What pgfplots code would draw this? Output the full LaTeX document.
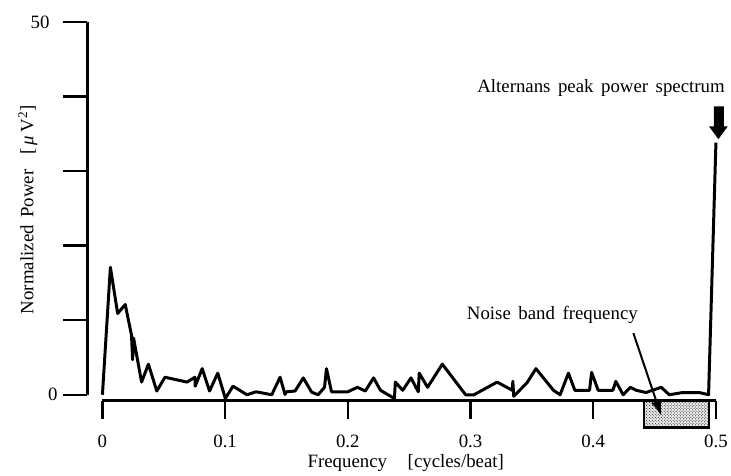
\documentclass[border=0pt]{standalone}
\usepackage{fontspec}
\setmainfont{Liberation Serif}
\usepackage{pgfplots}
\pgfplotsset{compat=1.18}
\usetikzlibrary{arrows.meta, patterns}

\newcommand{\gap}{\hspace{0.4em}}

\begin{document}
\begin{tikzpicture}[font=\fontsize{19}{23}\selectfont]
\begin{axis}[
    hide axis,
    scale only axis,
    width=617bp, height=375bp,
    xmin=0, xmax=0.5,
    ymin=0, ymax=50,
    clip=false
]
\coordinate (O) at (axis cs:0,0);

% spectrum
\addplot[black, line width=3bp, line join=round] coordinates {
    (0,0) (0.0065,17.1) (0.0124,10.9) (0.0186,12.1) (0.0237,8.0) (0.0246,4.7)
    (0.0254,7.6) (0.0319,1.7) (0.0375,4.1) (0.0443,0.5) (0.051,2.35) (0.069,1.7)
    (0.0754,2.35) (0.0756,1.15) (0.0813,3.5) (0.0873,0.5) (0.094,2.9) (0.1002,-0.5)
    (0.1064,1.15) (0.1178,0) (0.1253,0.4) (0.138,0) (0.1448,2.35) (0.1488,0.05)
    (0.150,0.4) (0.157,0.5) (0.1637,2.26) (0.1705,0.35) (0.1758,0) (0.181,1.0)
    (0.1826,3.5) (0.1867,0.4) (0.200,0.4) (0.2078,1.0) (0.2142,0.5) (0.221,2.26)
    (0.2266,0.6) (0.238,-0.5) (0.2387,1.7) (0.2447,0.6) (0.2515,2.26) (0.2574,0.4)
    (0.2582,2.9) (0.265,1.0) (0.277,4.1) (0.296,0) (0.3028,0) (0.3217,1.7)
    (0.334,0.6) (0.3345,1.8) (0.3352,-0.2) (0.346,1.6) (0.3533,3.5) (0.3676,0.6)
    (0.373,0) (0.3798,2.9) (0.385,0.6) (0.397,0.6) (0.3987,3.0) (0.404,0.6)
    (0.416,0.6) (0.4184,1.8) (0.4244,0) (0.4303,1.0) (0.435,0.6) (0.443,0.3)
    (0.4554,1.0) (0.462,0) (0.473,0.3) (0.4865,0.3) (0.494,0) (0.5,33.8)
};

% noise band box
\addplot[draw=black, line width=2.2bp, fill=gray!15,
    postaction={pattern=crosshatch dots, pattern color=black}] coordinates {
    (0.4417,-0.8) (0.4944,-0.8) (0.4944,-4.4) (0.4417,-4.4) (0.4417,-0.8)
};

% axes drawn apart, as in the original
\draw[line width=2.5bp] (axis cs:-0.0122,0) -- (axis cs:-0.0122,50);
\pgfplotsinvokeforeach{0,10,20,30,40,50}{
    \draw[line width=2.5bp] (axis cs:-0.0324,#1) -- (axis cs:-0.0122,#1);
}
\draw[line width=2.5bp] (axis cs:0,-0.8) -- (axis cs:0.5,-0.8);
\pgfplotsinvokeforeach{0,0.1,0.2,0.3,0.4,0.5}{
    \draw[line width=2.5bp] (axis cs:#1,-0.8) -- (axis cs:#1,-3.2);
    \node at (axis cs:#1,-6.2) {#1};
}

% tick labels
\node[anchor=east, inner sep=0pt] at (axis cs:-0.0430,50) {50};
\node[anchor=east, inner sep=0pt] at (axis cs:-0.0365,0) {0};

% axis titles
\node at (axis cs:0.2472,-9.1) {Frequency\hspace{1.1em}[cycles/beat]};
\node[rotate=90] at (axis cs:-0.0608,24.8) {Normalized\gap Power\hspace{0.8em}[\,\textit{μ}\,V\textsuperscript{2}]};

% annotations
\node at (axis cs:0.3667,10.67) {Noise\gap band\gap frequency};
\draw[line width=2bp, -{Latex[length=15bp,width=11bp]}] (axis cs:0.4327,8.27) -- (axis cs:0.4554,-2.8);
\node[anchor=east, inner sep=0pt] at (axis cs:0.5073,41.07) {Alternans\gap peak\gap power\gap spectrum};
\fill[black] (axis cs:0.4984,38.67) -- (axis cs:0.5065,38.67) -- (axis cs:0.5065,36.0)
    -- (axis cs:0.5097,36.0) -- (axis cs:0.5020,34.27) -- (axis cs:0.4943,36.0)
    -- (axis cs:0.4984,36.0) -- cycle;
\end{axis}
\path (O) ++(-103bp,-81bp) rectangle ++(731bp,478bp);
\end{tikzpicture}
\end{document}
